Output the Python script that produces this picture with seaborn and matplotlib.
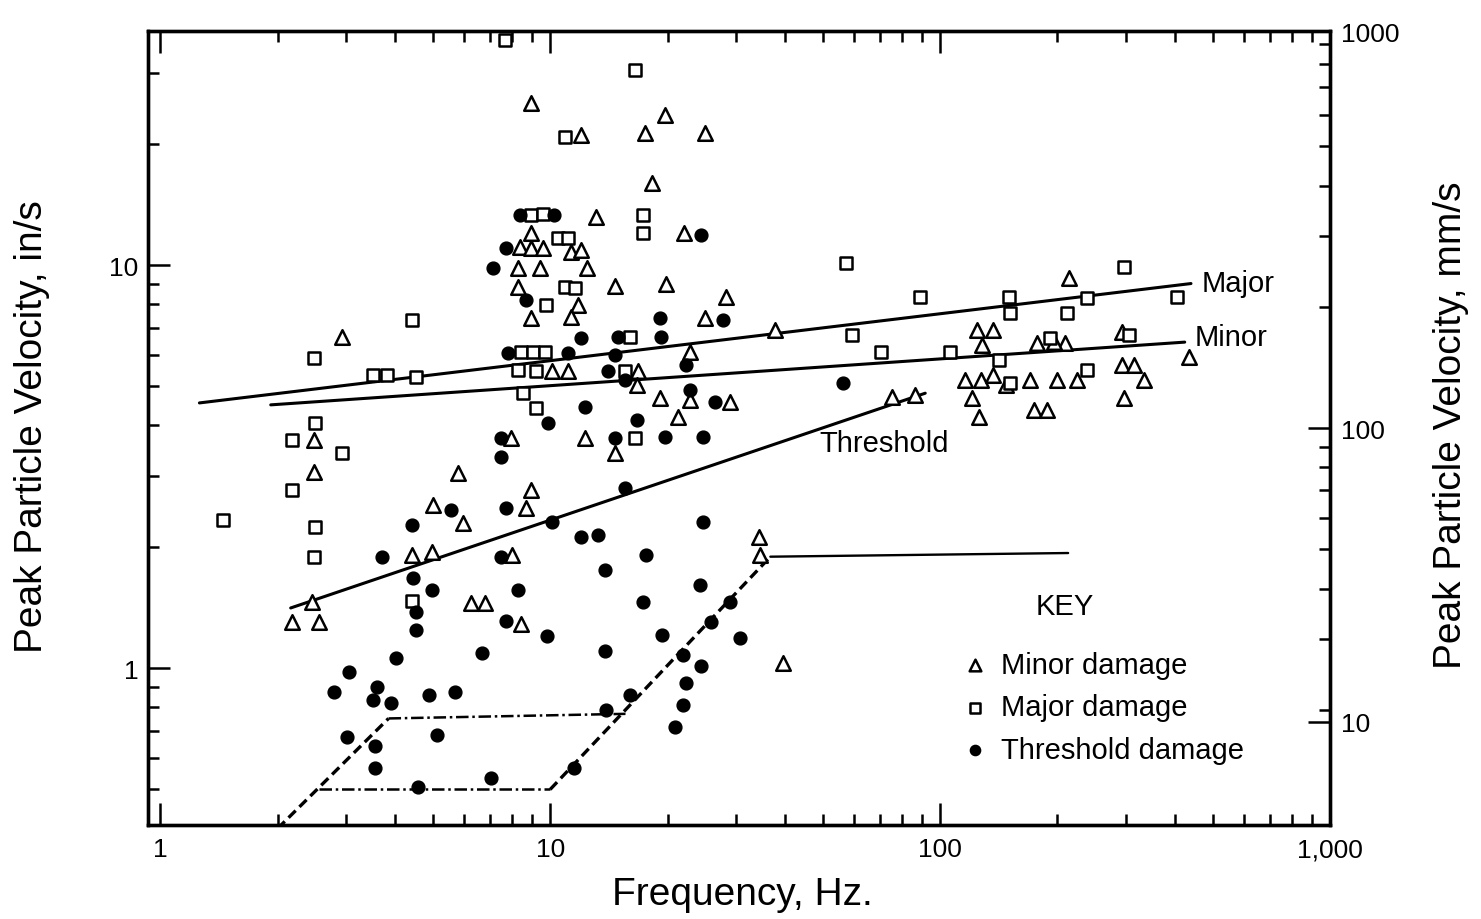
import matplotlib
matplotlib.use("Agg")
import matplotlib.pyplot as plt
import seaborn as sns
import pandas as pd
from matplotlib.ticker import FixedLocator, FixedFormatter, LogLocator, NullFormatter

# ---------------- data ----------------
minor_freq = [8.94, 12.0, 17.5, 19.7, 24.9, 18.2, 13.1, 22.1, 8.94, 8.38, 8.94, 9.60, 11.3, 12.0,
              8.28, 9.43, 12.4, 8.28, 14.7, 19.8, 28.2, 11.8, 8.94, 11.3, 24.9, 22.9, 10.1, 11.1,
              16.8, 16.7, 19.1, 22.9, 29.0, 21.3, 7.95, 12.3, 14.7, 2.92, 2.48, 2.48, 5.81, 5.02,
              5.98, 8.94, 8.68, 4.41, 4.97, 8.0, 2.45, 2.18, 2.55, 6.28, 6.82, 8.43, 34.4, 34.6,
              39.5, 37.8, 75.3, 86.3, 124, 137, 128, 116, 127, 137, 121, 126, 148, 170, 174, 188,
              177, 209, 199, 224, 292, 297, 292, 315, 333, 436, 214, 196]
minor_ppv = [25.2, 21.0, 21.3, 23.6, 21.3, 16.0, 13.2, 12.0, 12.0, 11.1, 11.0, 11.0, 10.8, 10.9,
             9.83, 9.83, 9.83, 8.82, 8.9, 9.0, 8.33, 7.96, 7.39, 7.42, 7.39, 6.08, 5.45, 5.45,
             5.45, 5.04, 4.68, 4.62, 4.57, 4.20, 3.72, 3.72, 3.42, 6.63, 3.68, 3.06, 3.05, 2.54,
             2.29, 2.77, 2.49, 1.91, 1.94, 1.91, 1.46, 1.30, 1.30, 1.45, 1.45, 1.29, 2.11, 1.91,
             1.03, 6.90, 4.70, 4.75, 6.90, 6.90, 6.33, 5.18, 5.18, 5.33, 4.68, 4.20, 5.04, 5.18,
             4.37, 4.37, 6.40, 6.40, 5.18, 5.18, 6.82, 4.68, 5.65, 5.65, 5.18, 5.91, 9.29, 6.44]

major_freq = [7.67, 16.5, 10.9, 17.3, 17.3, 8.94, 9.60, 10.5, 11.1, 10.9, 11.6, 9.77, 16.0, 8.43,
              9.05, 9.71, 8.28, 9.2, 15.6, 8.5, 9.2, 16.5, 1.45, 2.48, 4.41, 3.52, 3.81, 4.52,
              2.49, 2.18, 2.93, 2.18, 2.50, 2.48, 4.41, 57.2, 59.6, 70.6, 88.9, 106, 150, 151,
              211, 238, 297, 404, 142, 151, 191, 238, 306]
major_ppv = [36.2, 30.5, 20.8, 13.3, 12.0, 13.3, 13.4, 11.7, 11.7, 8.82, 8.77, 7.96, 6.63, 6.08,
             6.08, 6.08, 5.49, 5.45, 5.45, 4.81, 4.42, 3.72, 2.33, 5.88, 7.30, 5.33, 5.33, 5.27,
             4.05, 3.68, 3.42, 2.77, 2.24, 1.89, 1.47, 10.1, 6.70, 6.08, 8.33, 6.10, 8.33, 7.60,
             7.60, 8.28, 9.89, 8.33, 5.81, 5.10, 6.60, 5.49, 6.70]

thresh_freq = [8.38, 10.2, 24.3, 7.72, 7.15, 8.68, 19.1, 27.7, 12.0, 14.9, 19.2, 7.81, 11.1, 14.7,
               22.3, 14.1, 15.6, 9.9, 12.3, 22.9, 26.5, 16.7, 7.5, 14.7, 19.7, 24.6, 7.5, 15.6,
               10.1, 7.72, 5.58, 4.41, 12.0, 13.3, 24.6, 17.6, 13.8, 3.70, 7.5, 4.45, 4.97, 4.52,
               4.54, 7.72, 8.28, 9.8, 6.68, 4.02, 3.04, 2.79, 3.59, 3.52, 3.90, 4.88, 5.71, 5.12,
               3.02, 3.55, 3.55, 4.59, 7.03, 11.5, 24.2, 17.3, 29.0, 25.8, 19.4, 30.6, 13.8, 21.9,
               24.3, 22.3, 21.9, 20.9, 16.0, 13.9, 56.5]
thresh_ppv = [13.3, 13.3, 11.9, 11.0, 9.83, 8.18, 7.39, 7.30, 6.59, 6.63, 6.63, 6.05, 6.05, 5.98,
              5.65, 5.45, 5.18, 4.05, 4.45, 4.90, 4.57, 4.12, 3.72, 3.72, 3.74, 3.74, 3.34, 2.80,
              2.30, 2.49, 2.47, 2.26, 2.11, 2.14, 2.30, 1.91, 1.75, 1.89, 1.89, 1.67, 1.56, 1.38,
              1.24, 1.31, 1.56, 1.20, 1.09, 1.06, 0.98, 0.872, 0.897, 0.833, 0.818, 0.857, 0.87,
              0.682, 0.673, 0.640, 0.565, 0.507, 0.533, 0.565, 1.61, 1.46, 1.46, 1.30, 1.21, 1.19,
              1.10, 1.08, 1.01, 0.918, 0.810, 0.714, 0.857, 0.787, 5.10]

major_line_freq = [1.26, 440]
major_line_ppv = [4.55, 9.0]
minor_line_freq = [1.92, 424]
minor_line_ppv = [4.50, 6.44]
thresh_line_freq = [2.16, 91.6]
thresh_line_ppv = [1.41, 4.81]
curve_a_freq = [2.00, 3.85, 15.6]
curve_a_ppv = [0.40, 0.75, 0.77]
curve_b_freq = [2.56, 10.0, 36.7, 213]
curve_b_ppv = [0.50, 0.50, 1.89, 1.93]

x_ticks = [1, 10, 100, 1000]
x_tick_labels = ['1', '10', '100', '1,000']
y_ticks = [1, 10]
y_tick_labels = ['1', '10']
mm_tick_labels = ['10', '100', '1000']
mm_tick_ppv = [0.735, 3.94, 38.0]
mm_minor_ppv = [0.787, 1.18, 1.57, 1.97, 2.36, 2.76, 3.15, 3.54,
                7.87, 11.8, 15.7, 19.7, 23.6, 27.6, 31.5, 35.4]

# ---------------- style ----------------
sns.set_style("ticks")
plt.rcParams['font.family'] = ['Liberation Sans', 'DejaVu Sans']
for key in ['text.color', 'axes.labelcolor', 'xtick.color', 'ytick.color', 'axes.edgecolor']:
    plt.rcParams[key] = 'black'

fig = plt.figure(figsize=(14.81, 9.2), dpi=100)
ax = fig.add_axes([148 / 1481, 1 - 826 / 920, (1330 - 148) / 1481, (826 - 32) / 920])
ax.set_xscale('log')
ax.set_yscale('log')
ax.set_xlim(0.93, 1000)
ax.set_ylim(0.408, 38.1)

# ---------------- lines ----------------
lw = 2.2
ax.plot(major_line_freq, major_line_ppv, color='black', lw=lw)
ax.plot(minor_line_freq, minor_line_ppv, color='black', lw=lw)
ax.plot(thresh_line_freq, thresh_line_ppv, color='black', lw=lw)
ax.plot(curve_a_freq[0:2], curve_a_ppv[0:2], color='black', lw=2.4, ls=(0, (3, 1.6)))
ax.plot(curve_a_freq[1:3], curve_a_ppv[1:3], color='black', lw=1.8, ls=(0, (5, 1.5, 1, 1.5)))
ax.plot(curve_b_freq[0:2], curve_b_ppv[0:2], color='black', lw=1.8, ls=(0, (5, 1.5, 1, 1.5)))
ax.plot(curve_b_freq[1:3], curve_b_ppv[1:3], color='black', lw=2.4, ls=(0, (3, 1.6)))
ax.plot(curve_b_freq[2:4], curve_b_ppv[2:4], color='black', lw=1.7)

# ---------------- scatter ----------------
df_minor = pd.DataFrame({'f': minor_freq, 'v': minor_ppv})
df_major = pd.DataFrame({'f': major_freq, 'v': major_ppv})
df_thr = pd.DataFrame({'f': thresh_freq, 'v': thresh_ppv})

sns.scatterplot(data=df_minor, x='f', y='v', marker='^', s=110, color='white',
                edgecolor='black', linewidth=1.8, ax=ax, label='Minor damage', zorder=3)
sns.scatterplot(data=df_major, x='f', y='v', marker='s', s=75, color='white',
                edgecolor='black', linewidth=1.8, ax=ax, label='Major damage', zorder=3)
sns.scatterplot(data=df_thr, x='f', y='v', marker='o', s=85, color='black',
                edgecolor='black', linewidth=1.0, ax=ax, label='Threshold damage', zorder=3)

# ---------------- texts ----------------
tfs = 21
ax.text(468, 9.05, 'Major', ha='left', va='center', fontsize=tfs)
ax.text(449, 6.65, 'Minor', ha='left', va='center', fontsize=tfs)
ax.text(71.9, 3.62, 'Threshold', ha='center', va='center', fontsize=tfs)
ax.text(209, 1.43, 'KEY', ha='center', va='center', fontsize=tfs)

handles, labels = ax.get_legend_handles_labels()
leg = ax.legend(handles, labels, loc='upper left', bbox_to_anchor=(946 / 1481, 1 - 637 / 920),
                bbox_transform=fig.transFigure, frameon=False, fontsize=tfs, borderpad=0,
                handlelength=1.0, handletextpad=0.4, labelspacing=0.5, markerscale=0.8)

# ---------------- axes / ticks ----------------
ax.xaxis.set_major_locator(FixedLocator(x_ticks))
ax.xaxis.set_major_formatter(FixedFormatter(x_tick_labels))
ax.xaxis.set_minor_locator(LogLocator(base=10, subs=range(2, 10)))
ax.xaxis.set_minor_formatter(NullFormatter())
ax.yaxis.set_major_locator(FixedLocator(y_ticks))
ax.yaxis.set_major_formatter(FixedFormatter(y_tick_labels))
ax.yaxis.set_minor_locator(LogLocator(base=10, subs=range(2, 10)))
ax.yaxis.set_minor_formatter(NullFormatter())

ax.tick_params(which='both', direction='in', top=True, right=False, width=1.8, labelsize=19)
ax.tick_params(which='major', length=16)
ax.tick_params(which='minor', length=8)
ax.tick_params(axis='x', pad=9)
ax.tick_params(axis='y', pad=7)
for sp in ax.spines.values():
    sp.set_linewidth(2.4)
    sp.set_color('black')

ax2 = ax.twinx()
ax2.set_yscale('log')
ax2.set_ylim(ax.get_ylim())
ax2.yaxis.set_major_locator(FixedLocator(mm_tick_ppv))
ax2.yaxis.set_major_formatter(FixedFormatter(mm_tick_labels))
ax2.yaxis.set_minor_locator(FixedLocator(mm_minor_ppv))
ax2.yaxis.set_minor_formatter(NullFormatter())
ax2.tick_params(which='both', direction='in', width=1.8, labelsize=19, pad=8)
ax2.tick_params(which='major', length=16)
ax2.tick_params(which='minor', length=8)
for sp in ax2.spines.values():
    sp.set_linewidth(2.4)
    sp.set_color('black')

ax.set_xlabel('Frequency, Hz.', fontsize=28)
ax.set_ylabel('Peak Particle Velocity, in/s', fontsize=28)
ax2.set_ylabel('Peak Particle Velocity, mm/s', fontsize=28)
ax.xaxis.set_label_coords(0.5025, -0.064)
ax.yaxis.set_label_coords(-0.083, 0.5025)
ax2.yaxis.set_label_coords(1.087, 0.505)

fig.savefig('out.png', dpi=100, facecolor='white')
